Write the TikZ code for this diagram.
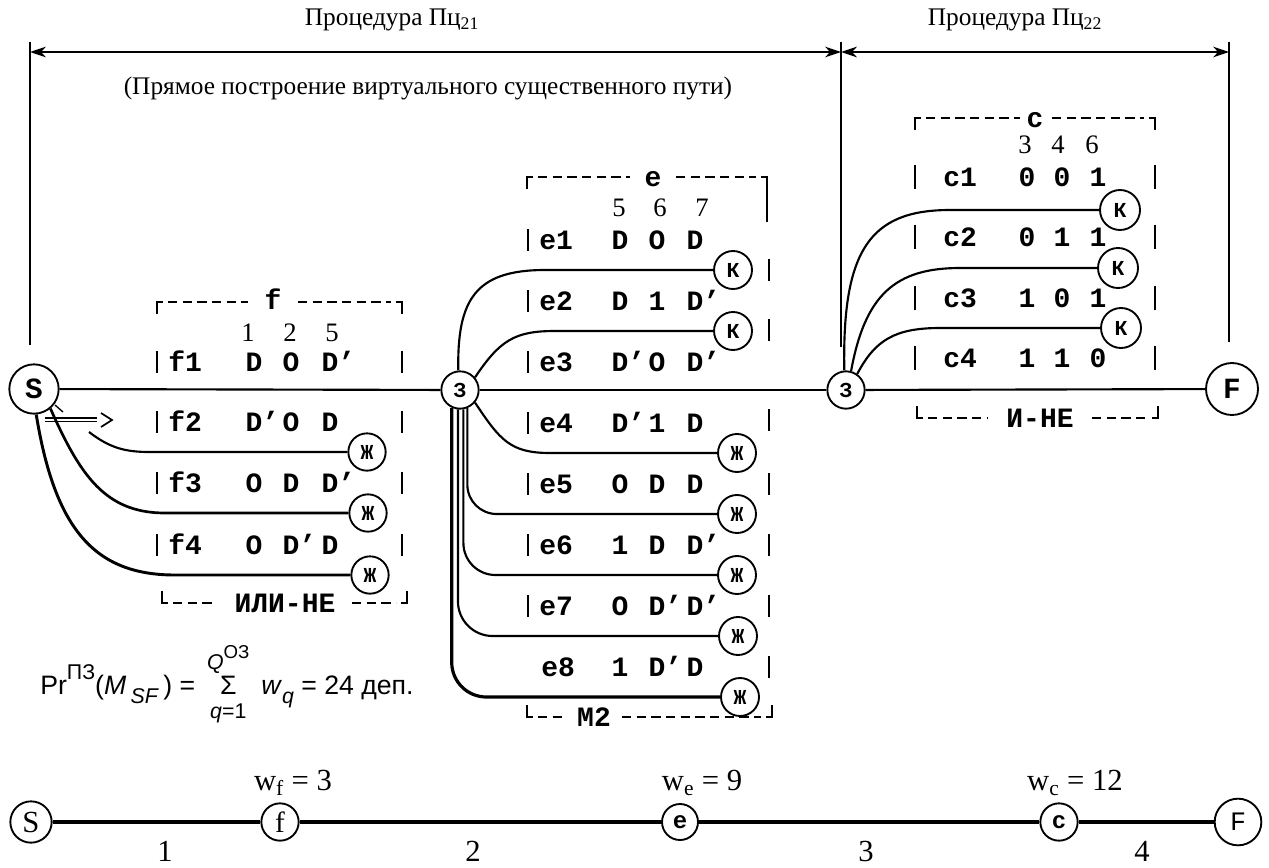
\documentclass[tikz,border=0pt]{standalone}
\usepackage{fontspec}
\setmainfont{Liberation Serif}
\newfontfamily\tw{Liberation Mono}
\newfontfamily\sfa{Liberation Sans}
\usetikzlibrary{arrows.meta}
\newcommand\topbr[5]{\draw[bar] (#1,#3+12)--(#1,#3)--(#1+6,#3); \draw[dsh] (#1+11,#3)--(#4,#3); \draw[dsh] (#5,#3)--(#2-11,#3); \draw[bar] (#2-6,#3)--(#2,#3)--(#2,#3+12);}
\newcommand\botbr[5]{\draw[bar] (#1,#3-12)--(#1,#3)--(#1+6,#3); \draw[dsh] (#1+11,#3)--(#4,#3); \draw[dsh] (#5,#3)--(#2-11,#3); \draw[bar] (#2-6,#3)--(#2,#3)--(#2,#3-12);}
\newcommand\Dp{D\rlap{’}}
\begin{document}
\begin{tikzpicture}[x=0.75pt,y=-0.75pt,
  ln/.style={line width=1.6pt},
  lnb/.style={line width=2.8pt},
  dim/.style={line width=1.3pt},
  dimarr/.style={line width=1.3pt,{Stealth[length=12pt,width=8pt]}-{Stealth[length=12pt,width=8pt]}},
  cn/.style={circle,draw,line width=1.4pt,inner sep=0pt,minimum size=#1,font=\tw\bfseries\fontsize{16}{16}\selectfont},
  tt/.style={font=\tw\bfseries\fontsize{21}{21}\selectfont,inner sep=0pt,text height=14pt,text depth=0pt},
  hd/.style={font=\fontsize{20}{20}\selectfont,inner sep=0pt},
  lab/.style={font=\fontsize{19}{19}\selectfont,inner sep=0pt},
  blab/.style={font=\fontsize{23}{23}\selectfont,inner sep=0pt},
  bar/.style={line width=1.9pt},
  dsh/.style={line width=1.7pt,dash pattern=on 7pt off 4pt},
]
\useasboundingbox (0,0) rectangle (1269,867);

% ---------- top dimension lines ----------
\coordinate (vL0) at (30,42);  \coordinate (vL1) at (30,345);
\coordinate (vM0) at (841,42); \coordinate (vM1) at (841,347);
\coordinate (vR0) at (1229,42);\coordinate (vR1) at (1229,342);
\coordinate (aL) at (30,52); \coordinate (aM) at (841,52); \coordinate (aR) at (1229,52);
\draw[dim] (vL0)--(vL1); \draw[dim] (vM0)--(vM1); \draw[dim] (vR0)--(vR1);
\draw[dimarr] (aL)--(aM);
\draw[dimarr] (aM)--(aR);
\node[lab] (p21) at (392,20) {Процедура Пц\textsubscript{21}};
\node[lab] (p22) at (1015,20) {Процедура Пц\textsubscript{22}};
\node[lab] (sub) at (428,88) {(Прямое построение виртуального существенного пути)};

% ---------- main circles ----------
\node[cn=37pt,font=\tw\bfseries\fontsize{22}{22}\selectfont] (S) at (34,389) {S};
\node[cn=28pt] (Z1) at (460,390) {З};
\node[cn=28pt] (Z2) at (846,390) {З};
\node[cn=39pt,font=\tw\bfseries\fontsize{22}{22}\selectfont] (F) at (1232,389) {F};
\draw[ln] (S)--(Z1); \draw[ln] (Z1)--(Z2); \draw[ln] (Z2)--(F);

% ---------- f box ----------
\topbr{157}{402}{302}{248}{298}
\node[tt] (fh) at (273,300) {f};
\botbr{162}{407}{603}{215}{352}
\node[tt] (fb) at (285,603) {ИЛИ-НЕ};
\node[hd] (f1h) at (248,333) {1};
\node[hd] (f2h) at (290,333) {2};
\node[hd] (f3h) at (332,333) {5};
\foreach \y/\l/\a/\b/\c in {362/f1/D/O/\Dp, 422/f2/\Dp/O/D, 483/f3/O/D/\Dp, 545/f4/O/\Dp/D}{
  \draw[bar] (157,\y-11)--(157,\y+11);
  \draw[bar] (402,\y-11)--(402,\y+11);
  \node[tt,anchor=west] (r\l) at (168,\y) {\l};
  \node[tt] (r\l a) at (254,\y) {\a};
  \node[tt] (r\l b) at (291,\y) {\b};
  \node[tt] (r\l c) at (330,\y) {\c};
}
\node[cn=28pt] (fz1) at (367,452) {Ж};
\node[cn=28pt] (fz2) at (368,513) {Ж};
\node[cn=28pt] (fz3) at (370,575) {Ж};
\coordinate (fa0) at (45,418); \coordinate (fa1) at (97,418);
\coordinate (fb0) at (45,421.5); \coordinate (fb1) at (97,421.5);
\draw[line width=0.8pt] (fa0)--(fa1); \draw[line width=0.8pt] (fb0)--(fb1);
\coordinate (hd1) at (101,413); \coordinate (hd2) at (112,420); \coordinate (hd3) at (101,427);
\draw[line width=1.3pt] (hd1)--(hd2)--(hd3);
\coordinate (tk0) at (55,405); \coordinate (tk1) at (63,412);
\draw[line width=1pt] (tk0)--(tk1);
\coordinate (c1s) at (89,432);
\draw[ln] (c1s) .. controls (110,448) and (125,452) .. (150,452) -- (fz1);
\draw[line width=2pt] (S.-50) .. controls (80,475) and (105,513) .. (165,513) -- (fz2);
\draw[line width=2.2pt] (S.-85) .. controls (55,530) and (95,575) .. (175,575) -- (fz3);

% ---------- e box ----------
\topbr{527}{767}{177}{630}{676}
\draw[bar] (767,177)--(767,222);
\node[tt] (eh) at (653,177) {e};
\botbr{527}{772}{717}{566}{622}
\node[tt] (eb) at (594,717) {М2};
\node[hd] (e5h) at (619,208) {5};
\node[hd] (e6h) at (660,208) {6};
\node[hd] (e7h) at (702,208) {7};
\foreach \y in {270,330,420,484,545,606,667}{
  \draw[bar] (769,\y-11)--(769,\y+11);
}
\foreach \y/\l/\a/\b/\c in {240/e1/D/O/D, 301/e2/D/1/\Dp, 362/e3/\Dp/O/\Dp, 423/e4/\Dp/1/D, 484/e5/O/D/D, 545/e6/1/D/\Dp, 606/e7/O/\Dp/\Dp}{
  \draw[bar] (528,\y-11)--(528,\y+11);
  \node[tt,anchor=west] (r\l) at (539,\y) {\l};
  \node[tt] (r\l a) at (620,\y) {\a};
  \node[tt] (r\l b) at (657,\y) {\b};
  \node[tt] (r\l c) at (695,\y) {\c};
}
\node[tt,anchor=west] (re8) at (541,667) {e8};
\node[tt] (re8a) at (620,667) {1};
\node[tt] (re8b) at (657,667) {\Dp};
\node[tt] (re8c) at (695,667) {D};
\node[cn=28.5pt] (ek1) at (733,270) {К};
\node[cn=28.5pt] (ek2) at (733,331) {К};
\node[cn=28.5pt] (ez4) at (737,453) {Ж};
\node[cn=28.5pt] (ez5) at (737,514) {Ж};
\node[cn=28.5pt] (ez6) at (737,575) {Ж};
\node[cn=28.5pt] (ez7) at (738,636) {Ж};
\node[cn=28.5pt] (ez8) at (740,697) {Ж};
\draw[ln] (Z1.95) .. controls (457,300) and (475,270) .. (545,270) -- (ek1);
\draw[ln] (Z1.40) .. controls (500,340) and (515,331) .. (555,331) -- (ek2);
\draw[ln] (Z1.-40) .. controls (500,440) and (510,453) .. (550,453) -- (ez4);
\draw[ln,rounded corners=22pt] (Z1.-68) |- (ez5);
\draw[ln,rounded corners=24pt] (Z1.-80) |- (ez6);
\draw[ln,rounded corners=26pt] (Z1.-96) |- (ez7);
\draw[line width=2.4pt,rounded corners=26pt] (Z1.-115) |- (ez8);

% ---------- c box ----------
\topbr{915}{1155}{118}{1020}{1052}
\node[tt] (ch) at (1035,118) {c};
\botbr{917}{1158}{418}{988}{1092}
\node[tt] (cb) at (1040,418) {И-НЕ};
\node[hd] (c3h) at (1025,145) {3};
\node[hd] (c4h) at (1058,145) {4};
\node[hd] (c6h) at (1092,145) {6};
\foreach \y/\l/\a/\b/\c in {177/c1/0/0/1, 237/c2/0/1/1, 298/c3/1/0/1, 358/c4/1/1/0}{
  \draw[bar] (915,\y-12)--(915,\y+12);
  \draw[bar] (1155,\y-12)--(1155,\y+12);
  \node[tt,anchor=west] (r\l) at (943,\y) {\l};
  \node[tt] (r\l a) at (1027,\y) {\a};
  \node[tt] (r\l b) at (1062,\y) {\b};
  \node[tt] (r\l c) at (1098,\y) {\c};
}
\node[cn=30pt] (ck1) at (1120,210) {К};
\node[cn=30pt] (ck2) at (1118,268) {К};
\node[cn=30pt] (ck3) at (1121,328) {К};
\draw[ln] (Z2.95) .. controls (842,250) and (870,210) .. (950,210) -- (ck1);
\draw[ln] (Z2.75) .. controls (865,295) and (895,268) .. (960,268) -- (ck2);
\draw[ln] (Z2.55) .. controls (875,340) and (895,328) .. (940,328) -- (ck3);

% ---------- formula ----------
\node[font=\sfa\fontsize{20}{20}\selectfont,anchor=west,inner sep=0pt] (form) at (40,684)
 {Pr\raisebox{1.1ex}{\fontsize{16}{16}\selectfont ПЗ}(\textit{M}\,\raisebox{-0.6ex}{\fontsize{16}{16}\selectfont\textit{SF}}\,) =\,
 $\mathop{\hbox{\sfa\fontsize{20}{20}\selectfont\rule[-5pt]{0pt}{20pt}Σ}}\limits_{\hbox{\sfa\fontsize{16}{16}\selectfont\textit{q}=1}}^{\hbox{\sfa\fontsize{16}{16}\selectfont\textit{Q}\raisebox{1ex}{\fontsize{14}{14}\selectfont ОЗ}}}$\,
 \textit{w}\raisebox{-0.6ex}{\fontsize{16}{16}\selectfont\textit{q}} = 24 деп.};

% ---------- bottom path ----------
\node[cn=31pt,font=\fontsize{23}{23}\selectfont] (bS) at (31,822) {S};
\node[cn=28pt,font=\fontsize{22}{22}\selectfont] (bf) at (280,822) {f};
\node[cn=27pt,font=\tw\bfseries\fontsize{18}{18}\selectfont] (be) at (680,822) {e};
\node[cn=28pt,font=\tw\bfseries\fontsize{18}{18}\selectfont] (bc) at (1059,822) {c};
\node[cn=35pt,font=\tw\fontsize{20}{20}\selectfont] (bF) at (1238,822) {F};
\draw[lnb] (bS)--(bf); \draw[lnb] (bf)--(be); \draw[lnb] (be)--(bc); \draw[lnb] (bc)--(bF);
\node[blab] (wf) at (293,783) {w\textsubscript{f} = 3};
\node[blab] (we) at (702,783) {w\textsubscript{e} = 9};
\node[blab] (wc) at (1075,783) {w\textsubscript{c} = 12};
\node[blab] (n1) at (165,851) {1};
\node[blab] (n2) at (473,851) {2};
\node[blab] (n3) at (866,851) {3};
\node[blab] (n4) at (1142,851) {4};
\end{tikzpicture}
\end{document}
